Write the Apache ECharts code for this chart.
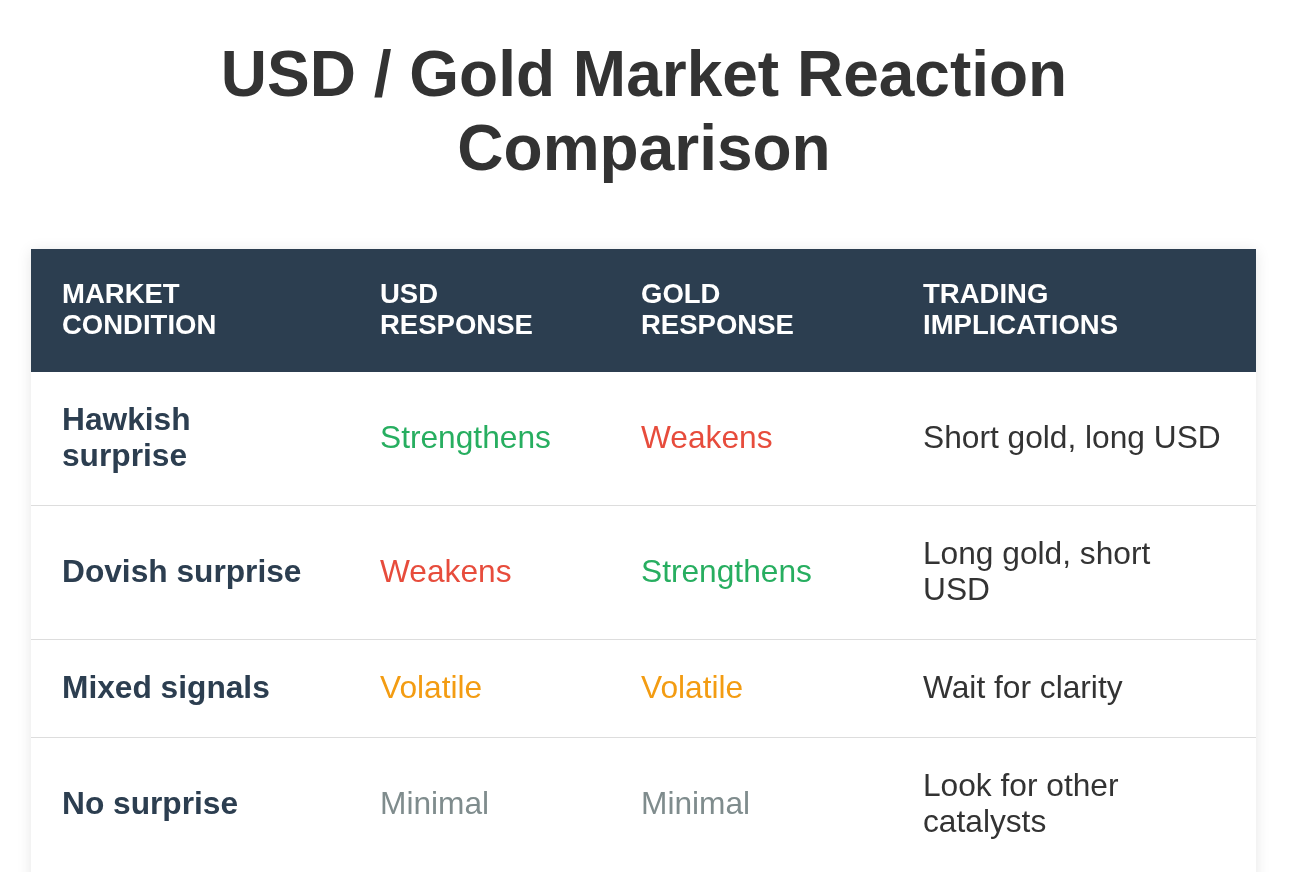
<!DOCTYPE html>
<html>
<head>
<meta charset="utf-8">
<script src="https://cdn.jsdelivr.net/npm/echarts@6/dist/echarts.min.js"></script>
<style>
html,body{margin:0;padding:0;background:#fff;}
#chart{width:1313px;height:872px;}
</style>
</head>
<body>
<div id="chart"></div>
<script>
// ---- data ----
const titleText = 'USD / Gold Market Reaction\nComparison';
const headers = ['MARKET\nCONDITION', 'USD\nRESPONSE', 'GOLD\nRESPONSE', 'TRADING\nIMPLICATIONS'];
const conditions = ['Hawkish\nsurprise', 'Dovish surprise', 'Mixed signals', 'No surprise'];
const usdResponse = ['Strengthens', 'Weakens', 'Volatile', 'Minimal'];
const goldResponse = ['Weakens', 'Strengthens', 'Volatile', 'Minimal'];
const implications = ['Short gold, long USD', 'Long gold, short\nUSD', 'Wait for clarity', 'Look for other\ncatalysts'];

// ---- layout & styles ----
const colEdges = [0, 318, 579, 861, 1225];
const rowEdges = [0, 123, 257, 391, 489, 623];
const responseColors = {
  'Strengthens': '#27ae60',
  'Weakens': '#e74c3c',
  'Volatile': '#f39c12',
  'Minimal': '#7f8c8d'
};
const FONT = "'Liberation Sans', Arial, Helvetica, sans-serif";

const bodyColumns = [conditions, usdResponse, goldResponse, implications];

function cellText(c, r) {
  if (r === 0) return headers[c];
  return bodyColumns[c][r - 1];
}
function cellStyle(c, r) {
  if (r === 0) return { fill: '#ffffff', font: 'bold 27.5px ' + FONT, lineHeight: 31 };
  if (c === 0) return { fill: '#2c3e50', font: 'bold 31.7px ' + FONT, lineHeight: 36 };
  if (c === 1 || c === 2) {
    const t = bodyColumns[c][r - 1];
    return { fill: responseColors[t] || '#333', font: '31.7px ' + FONT, lineHeight: 36 };
  }
  return { fill: '#333333', font: '31.7px ' + FONT, lineHeight: 36 };
}

const cells = [];
for (let r = 0; r <= conditions.length; r++) {
  for (let c = 0; c < headers.length; c++) {
    cells.push([c, r]);
  }
}

const chart = echarts.init(document.getElementById('chart'), null, { renderer: 'canvas' });

chart.setOption({
  backgroundColor: '#ffffff',
  animation: false,
  title: {
    text: titleText,
    left: 644,
    top: 41,
    padding: 0,
    textAlign: 'center',
    textStyle: {
      fontFamily: FONT,
      fontSize: 64,
      fontWeight: 'bold',
      color: '#333333',
      lineHeight: 74
    }
  },
  graphic: [{
    type: 'rect',
    z: 0,
    silent: true,
    shape: { x: 31, y: 249, width: 1225, height: 640 },
    style: { fill: '#ffffff', shadowBlur: 14, shadowColor: 'rgba(0,0,0,0.10)', shadowOffsetY: 2 }
  }],
  grid: { left: 31, right: 57, top: 249, bottom: 0 },
  xAxis: { type: 'value', min: 0, max: 1225, show: false },
  yAxis: { type: 'value', min: 0, max: 623, inverse: true, show: false },
  series: [{
    type: 'custom',
    z: 5,
    clip: false,
    encode: { x: 0, y: 1 },
    data: cells,
    renderItem: function (params, api) {
      const c = api.value(0);
      const r = api.value(1);
      const p0 = api.coord([colEdges[c], rowEdges[r]]);
      const p1 = api.coord([colEdges[c + 1], rowEdges[r + 1]]);
      const x = p0[0], y = p0[1], w = p1[0] - p0[0], h = p1[1] - p0[1];
      const st = cellStyle(c, r);
      const children = [{
        type: 'rect',
        shape: { x: x, y: y, width: w, height: h },
        style: { fill: r === 0 ? '#2c3e50' : '#ffffff' }
      }];
      if (r > 0 && r < conditions.length) {
        children.push({
          type: 'line',
          shape: { x1: x, y1: y + h, x2: x + w, y2: y + h },
          style: { stroke: '#dddddd', lineWidth: 2 }
        });
      }
      children.push({
        type: 'text',
        style: {
          x: x + 31,
          y: y + h / 2,
          text: cellText(c, r),
          fill: st.fill,
          font: st.font,
          lineHeight: st.lineHeight,
          align: 'left',
          verticalAlign: 'middle'
        }
      });
      return { type: 'group', children: children };
    }
  }]
});
</script>
</body>
</html>
